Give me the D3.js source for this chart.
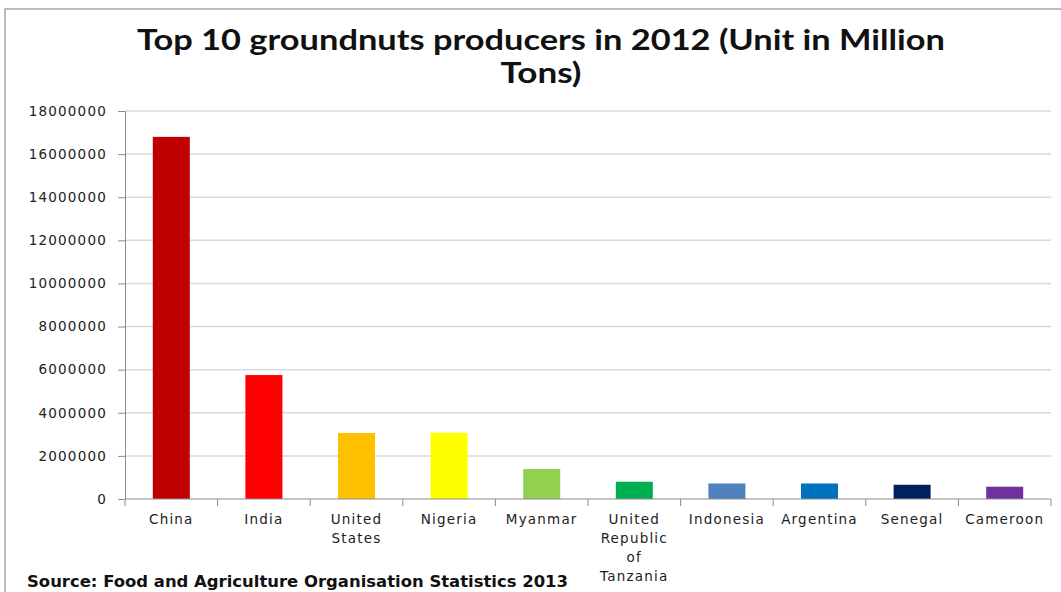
<!DOCTYPE html>
<html>
<head>
<meta charset="utf-8">
<script src="https://cdn.jsdelivr.net/npm/d3@7"></script>
<style>
  body { margin: 0; background: #fff; }
  #vis { width: 1061px; height: 592px; }
  .grid line { stroke: #d9d9d9; stroke-width: 1.5; }
  .axis path, .axis line { stroke: #8c8c8c; }
  .axis text { font-family: "DejaVu Sans", sans-serif; font-size: 13.5px; fill: #222; letter-spacing: 1.2px; }
</style>
</head>
<body>
<div id="vis"></div>
<script>
var countries = ['China', 'India', 'United States', 'Nigeria', 'Myanmar',
  'United Republic of Tanzania', 'Indonesia', 'Argentina', 'Senegal', 'Cameroon'];
var production = [16800000, 5750000, 3060000, 3070000, 1390000,
  800000, 720000, 720000, 660000, 570000];
var colours = ['#C00000', '#FF0000', '#FFC000', '#FFFF00', '#92D050',
  '#00B050', '#4F81BD', '#0070C0', '#002060', '#7030A0'];
var y_ticks = [0, 2000000, 4000000, 6000000, 8000000, 10000000,
  12000000, 14000000, 16000000, 18000000];
var title_lines = ['Top 10 groundnuts producers in 2012 (Unit in Million', 'Tons)'];
var source_text = 'Source: Food and Agriculture Organisation Statistics 2013';

var data = countries.map(function(c, i) {
  return { country: c, value: production[i], colour: colours[i] };
});

var width = 1061, height = 592;
var margin = { top: 111, bottom: 93, left: 125, right: 10 };

var svg = d3.select('#vis')
  .append('svg')
  .attr('width', width)
  .attr('height', height);

// outer chart frame
svg.append('rect')
  .attr('x', 5).attr('y', 9)
  .attr('width', 1080).attr('height', 620)
  .attr('fill', 'none')
  .attr('stroke', '#a6a6a6')
  .attr('stroke-width', 1.5);

var w = width - margin.left - margin.right;
var h = height - margin.top - margin.bottom;

var g = svg.append('g')
  .attr('transform', 'translate(' + margin.left + ',' + margin.top + ')');

var x_band = d3.scaleBand().domain(countries).range([0, w]);
var bar_w = 37;

var y_scale = d3.scaleLinear()
  .domain([0, 18000000])
  .range([h, 0]);

// gridlines
g.append('g')
  .attr('class', 'grid')
  .selectAll('line')
  .data(y_ticks.slice(1))
  .enter()
  .append('line')
  .attr('x1', 0).attr('x2', w)
  .attr('y1', function(d) { return y_scale(d); })
  .attr('y2', function(d) { return y_scale(d); });

g.selectAll('.bar')
  .data(data)
  .enter()
  .append('rect')
  .attr('class', 'bar')
  .attr('x', function(d) { return x_band(d.country) + (x_band.bandwidth() - bar_w) / 2; })
  .attr('width', bar_w)
  .attr('y', function(d) { return y_scale(d.value); })
  .attr('height', function(d) { return h - y_scale(d.value); })
  .attr('fill', function(d) { return d.colour; });

// y axis
var y_axis = d3.axisLeft(y_scale)
  .tickValues(y_ticks)
  .tickFormat(d3.format('d'))
  .tickSize(7)
  .tickPadding(11);

g.append('g')
  .attr('class', 'y axis')
  .call(y_axis);

// x axis with ticks between categories
var x_axis_g = g.append('g')
  .attr('class', 'x axis')
  .attr('transform', 'translate(0,' + h + ')');

x_axis_g.append('line')
  .attr('x1', 0).attr('x2', w)
  .attr('y1', 0).attr('y2', 0);

x_axis_g.selectAll('.sep')
  .data(countries.concat(['end']))
  .enter()
  .append('line')
  .attr('class', 'sep')
  .attr('x1', function(d, i) { return i * x_band.bandwidth(); })
  .attr('x2', function(d, i) { return i * x_band.bandwidth(); })
  .attr('y1', 0).attr('y2', 7);

var wraps = {
  'United States': ['United', 'States'],
  'United Republic of Tanzania': ['United', 'Republic', 'of', 'Tanzania']
};

x_axis_g.selectAll('.lbl')
  .data(countries)
  .enter()
  .append('text')
  .attr('class', 'lbl')
  .attr('text-anchor', 'middle')
  .attr('transform', function(d) {
    return 'translate(' + (x_band(d) + x_band.bandwidth() / 2) + ',25)';
  })
  .each(function(d) {
    var lines = wraps[d] || [d];
    var t = d3.select(this);
    lines.forEach(function(l, i) {
      t.append('tspan').attr('x', 0).attr('y', i * 19).text(l);
    });
  });

// title
var title_w = [808, 81];
title_lines.forEach(function(l, i) {
  svg.append('text')
    .attr('text-anchor', 'middle')
    .attr('x', 541)
    .attr('y', 50 + i * 33)
    .attr('textLength', title_w[i])
    .attr('lengthAdjust', 'spacingAndGlyphs')
    .style('font-family', 'Lato, sans-serif')
    .style('font-weight', 'bold')
    .style('font-size', '29px')
    .style('fill', '#111')
    .text(l);
});

// source note
svg.append('text')
  .attr('x', 27)
  .attr('y', 587)
  .attr('textLength', 541)
  .attr('lengthAdjust', 'spacingAndGlyphs')
  .style('font-family', '"DejaVu Sans", sans-serif')
  .style('font-weight', 'bold')
  .style('font-size', '15px')
  .style('fill', '#111')
  .text(source_text);
</script>
</body>
</html>
